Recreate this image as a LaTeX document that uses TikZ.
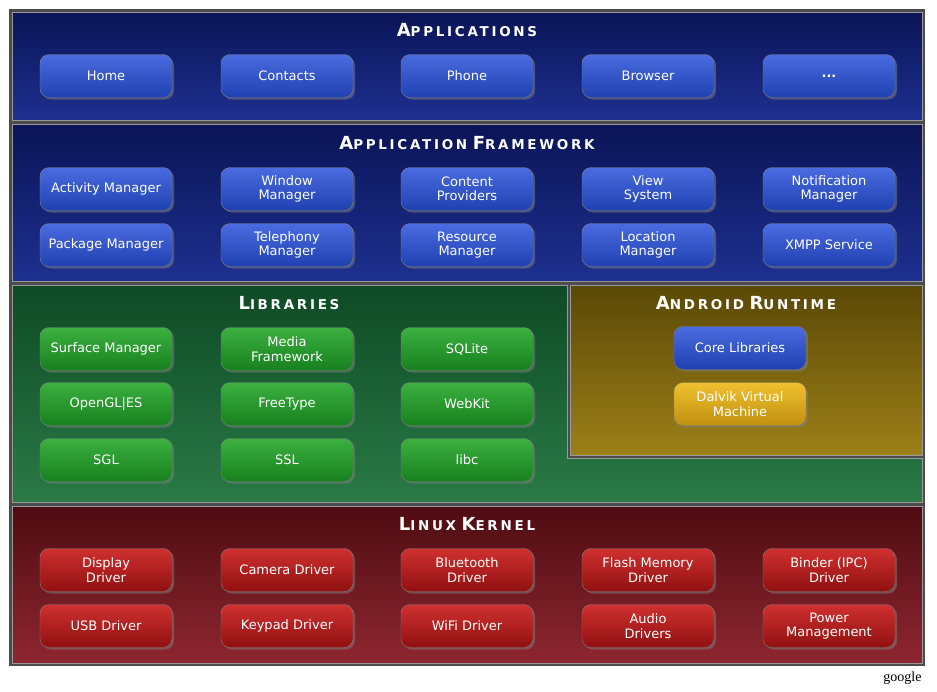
\documentclass[tikz,border=0pt]{standalone}
\usepackage{fontspec}
\setmainfont{DejaVu Sans}
\usetikzlibrary{shadows}
\definecolor{appdark}{HTML}{0A1456}
\definecolor{appbg}{HTML}{1E3090}
\definecolor{appbtn}{HTML}{4A6CE0}
\definecolor{appbtnd}{HTML}{2040B0}
\definecolor{libdark}{HTML}{0E4A26}
\definecolor{libbg}{HTML}{2A7A46}
\definecolor{libbtn}{HTML}{3CB040}
\definecolor{libbtnd}{HTML}{16801E}
\definecolor{rtdark}{HTML}{5A4806}
\definecolor{rtbg}{HTML}{9C8018}
\definecolor{rtbtn}{HTML}{F0C030}
\definecolor{rtbtnd}{HTML}{C09010}
\definecolor{kerdark}{HTML}{4E0C12}
\definecolor{kerbg}{HTML}{8E2630}
\definecolor{kerbtn}{HTML}{D03030}
\definecolor{kerbtnd}{HTML}{901010}
\newcommand{\layertitle}[2]{{\fontsize{18}{18}\selectfont #1}{\fontsize{13.5}{13.5}\selectfont #2}}
\tikzset{
  layer/.style 2 args={draw=black!40, line width=1pt, top color=#1, bottom color=#2},
  btn/.style 2 args={rounded corners=9pt, minimum width=132pt, minimum height=43pt,
    inner sep=1pt, align=center, text=white, font=\fontsize{13}{14.5}\selectfont,
    top color=#1, bottom color=#2, draw=black!50, drop shadow={opacity=0.5,shadow xshift=2pt,shadow yshift=-2pt}},
  title/.style={text=white, font=\bfseries\addfontfeature{LetterSpace=20}}
}
\begin{document}
\begin{tikzpicture}[x=1pt,y=-1pt]
\useasboundingbox[fill=white] (0,0) rectangle (937,691);
\fill[black!70] (9,9) rectangle (925,666);
% layers
\path[layer={appdark}{appbg}] (12,12) rectangle (922,120);
\path[layer={appdark}{appbg}] (12,124) rectangle (922,281);
\path[layer={libdark}{libbg}] (12,285) -- (567,285) -- (567,458) -- (922,458) -- (922,502) -- (12,502) -- cycle;
\path[layer={rtdark}{rtbg}] (570,285) rectangle (922,455);
\path[layer={kerdark}{kerbg}] (12,506) rectangle (922,663);
% titles
\node[title] (tapps) at (467,30) {\layertitle{A}{PPLICATIONS}};
\node[title] (tfw) at (467,143) {\layertitle{A}{PPLICATION} \layertitle{F}{RAMEWORK}};
\node[title] (tlib) at (289,303) {\layertitle{L}{IBRARIES}};
\node[title] (trt) at (746,303) {\layertitle{A}{NDROID} \layertitle{R}{UNTIME}};
\node[title] (tker) at (467,524) {\layertitle{L}{INUX} \layertitle{K}{ERNEL}};
% applications
\foreach \n/\x/\t in {home/106/Home, contacts/287/Contacts, phone/467/Phone, browser/648/Browser, more/829/{\textbf{...}}}
  \node[btn={appbtn}{appbtnd}] (\n) at (\x,76) {\t};
% framework
\foreach \n/\x/\t in {actmgr/106/Activity Manager, winmgr/287/{Window\\Manager}, cprov/467/{Content\\Providers}, viewsys/648/{View\\System}, notmgr/829/{Notification\\Manager}}
  \node[btn={appbtn}{appbtnd}] (\n) at (\x,189) {\t};
\foreach \n/\x/\t in {pkgmgr/106/Package Manager, telmgr/287/{Telephony\\Manager}, resmgr/467/{Resource\\Manager}, locmgr/648/{Location\\Manager}, xmpp/829/XMPP Service}
  \node[btn={appbtn}{appbtnd}] (\n) at (\x,245) {\t};
% libraries
\foreach \n/\x/\y/\t in {surf/106/349/Surface Manager, media/287/349/{Media\\Framework}, sqlite/467/349/SQLite,
    opengl/106/404/OpenGL|ES, freetype/287/404/FreeType, webkit/467/404/WebKit,
    sgl/106/460/SGL, ssl/287/460/SSL, libc/467/460/libc}
  \node[btn={libbtn}{libbtnd}] (\n) at (\x,\y) {\t};
% runtime
\node[btn={appbtn}{appbtnd}] (corelib) at (740,348) {Core Libraries};
\node[btn={rtbtn}{rtbtnd}] (dalvik) at (740,404) {Dalvik Virtual\\Machine};
% kernel
\foreach \n/\x/\t in {disp/106/{Display\\Driver}, cam/287/Camera Driver, bt/467/{Bluetooth\\Driver}, flash/648/{Flash Memory\\Driver}, binder/829/{Binder (IPC)\\Driver}}
  \node[btn={kerbtn}{kerbtnd}] (\n) at (\x,570) {\t};
\foreach \n/\x/\t in {usb/106/USB Driver, keypad/287/Keypad Driver, wifi/467/WiFi Driver, audio/648/{Audio\\Drivers}, power/829/{Power\\Management}}
  \node[btn={kerbtn}{kerbtnd}] (\n) at (\x,626) {\t};
\node[font=\fontsize{14}{14}\selectfont, anchor=east] (src) at (925,678) {\setmainfont{Liberation Serif}google};
\end{tikzpicture}
\end{document}
